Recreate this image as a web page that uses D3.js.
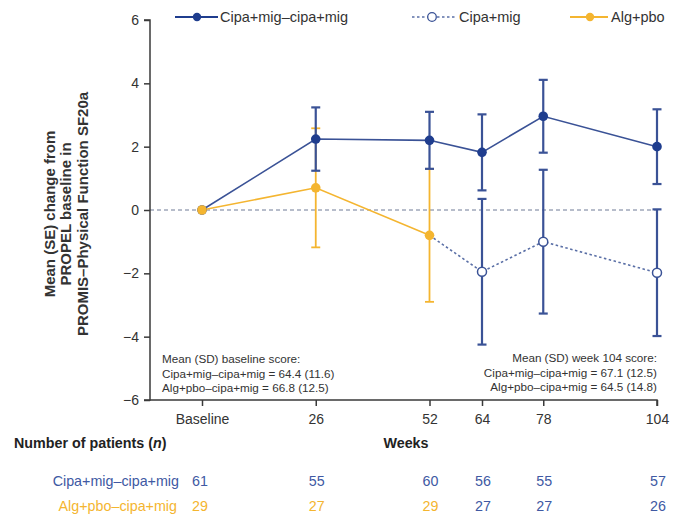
<!DOCTYPE html>
<html>
<head>
<meta charset="utf-8">
<script src="https://cdn.jsdelivr.net/npm/d3@7"></script>
<style>
  html, body { margin: 0; padding: 0; background: #fff; }
  svg { display: block; font-family: "Liberation Sans", Arial, sans-serif; }
</style>
</head>
<body>
<svg id="chart" width="673" height="520"></svg>
<script>
// Study visits (weeks) and their axis labels
const weeks = [0, 26, 52, 64, 78, 104];
const weekLabels = ["Baseline", "26", "52", "64", "78", "104"];

// Cipa+mig–cipa+mig: mean (SE) change from baseline
const cipaMean = [0, 2.24, 2.2, 1.82, 2.96, 2.0];
const cipaSE   = [0, 1.0, 0.9, 1.2, 1.15, 1.18];

// Alg+pbo during double-blind period
const algWeeks = [0, 26, 52];
const algMean  = [0, 0.7, -0.8];
const algSE    = [0, 1.88, 2.1];

// After switch to cipa+mig (open-label extension)
const switchWeeks = [52, 64, 78, 104];
const switchMean  = [-0.8, -1.95, -1.0, -1.98];
const switchSE    = [0, 2.3, 2.27, 2.0];

// Number of patients per visit
const nCipa = [61, 55, 60, 56, 55, 57];
const nAlg  = [29, 27, 29, 27, 27, 26];

const yTicks = [-6, -4, -2, 0, 2, 4, 6];

const BLUE = "#1f3d8e";
const BLUE_LINE = "#3a5296";
const BLUE_TEXT = "#4059a3";
const YELLOW = "#f4b530";
const AXIS = "#3a3a3a";

const svg = d3.select("#chart");

const x = d3.scaleLinear().domain([0, 104]).range([202, 657]);
const y = d3.scaleLinear().domain([-6, 6]).range([400, 20]);
const xLeft = 150;

// Zero reference line
svg.append("line")
  .attr("x1", xLeft).attr("x2", x(104))
  .attr("y1", y(0)).attr("y2", y(0))
  .attr("stroke", "#6f7a96").attr("stroke-width", 1)
  .attr("stroke-dasharray", "4,3");

// Y axis
const yAxis = d3.axisLeft(y).tickValues(yTicks).tickSize(6).tickPadding(5)
  .tickFormat(d => d < 0 ? "\u2212" + Math.abs(d) : d);
const gy = svg.append("g").attr("transform", `translate(${xLeft},0)`).call(yAxis);
gy.select(".domain").attr("stroke", AXIS).attr("stroke-width", 1.5).attr("d", `M-6,${y(6)}H0V${y(-6)}H-6`);
gy.selectAll(".tick line").attr("stroke", AXIS).attr("stroke-width", 1.5);
gy.selectAll(".tick text").attr("font-size", 14).attr("fill", "#333")
  .attr("font-family", "Liberation Sans, Arial, sans-serif");

// X axis
const xAxis = d3.axisBottom(x).tickValues(weeks).tickSize(6).tickPadding(8)
  .tickFormat((d, i) => weekLabels[i]);
const gx = svg.append("g").attr("transform", `translate(0,${y(-6)})`).call(xAxis);
gx.select(".domain").attr("stroke", AXIS).attr("stroke-width", 1.5).attr("d", `M${xLeft},0H${x(104)}V6`);
gx.selectAll(".tick line").attr("stroke", AXIS).attr("stroke-width", 1.5);
gx.selectAll(".tick text").attr("font-size", 14).attr("fill", "#333")
  .attr("font-family", "Liberation Sans, Arial, sans-serif");

// Y axis title
const yTitle = svg.append("text")
  .attr("transform", `translate(66,214) rotate(-90)`)
  .attr("text-anchor", "middle")
  .attr("font-size", 15).attr("font-weight", "bold").attr("fill", "#333");
["Mean (SE) change from", "PROPEL baseline in", "PROMIS\u2013Physical Function SF20a"]
  .forEach((t, i) => yTitle.append("tspan").attr("x", 0).attr("dy", i === 0 ? "-11.5" : "16.5").text(t));

// Error bars helper
function errorBars(xs, means, ses, color, width) {
  const g = svg.append("g").attr("stroke", color).attr("stroke-width", width).attr("fill", "none");
  xs.forEach((w, i) => {
    if (!ses[i]) return;
    const cx = x(w), top = y(means[i] + ses[i]), bot = y(means[i] - ses[i]);
    g.append("line").attr("x1", cx).attr("x2", cx).attr("y1", top).attr("y2", bot);
    g.append("line").attr("x1", cx - 4.5).attr("x2", cx + 4.5).attr("y1", top).attr("y2", top);
    g.append("line").attr("x1", cx - 4.5).attr("x2", cx + 4.5).attr("y1", bot).attr("y2", bot);
  });
}

const line = d3.line().x(d => x(d[0])).y(d => y(d[1]));

// Alg+pbo (drawn beneath)
errorBars(algWeeks, algMean, algSE, YELLOW, 1.8);
svg.append("path").datum(algWeeks.map((w, i) => [w, algMean[i]]))
  .attr("d", line).attr("fill", "none").attr("stroke", YELLOW).attr("stroke-width", 1.6);

// Switched to cipa+mig
errorBars(switchWeeks, switchMean, switchSE, BLUE_LINE, 2.2);
svg.append("path").datum(switchWeeks.map((w, i) => [w, switchMean[i]]))
  .attr("d", line).attr("fill", "none").attr("stroke", "#5a6fa6").attr("stroke-width", 1.6)
  .attr("stroke-dasharray", "2.5,2.5");

// Cipa+mig–cipa+mig
errorBars(weeks, cipaMean, cipaSE, BLUE_LINE, 2.2);
svg.append("path").datum(weeks.map((w, i) => [w, cipaMean[i]]))
  .attr("d", line).attr("fill", "none").attr("stroke", BLUE_LINE).attr("stroke-width", 1.6);

// Markers
svg.append("g").selectAll("circle").data(switchWeeks.slice(1).map((w, i) => [w, switchMean[i + 1]]))
  .join("circle").attr("cx", d => x(d[0])).attr("cy", d => y(d[1])).attr("r", 4.5)
  .attr("fill", "#fff").attr("stroke", BLUE_LINE).attr("stroke-width", 1.5);
svg.append("g").selectAll("circle").data(weeks.map((w, i) => [w, cipaMean[i]]))
  .join("circle").attr("cx", d => x(d[0])).attr("cy", d => y(d[1])).attr("r", 4.8)
  .attr("fill", BLUE);
svg.append("g").selectAll("circle").data(algWeeks.map((w, i) => [w, algMean[i]]))
  .join("circle").attr("cx", d => x(d[0])).attr("cy", d => y(d[1])).attr("r", 4.8)
  .attr("fill", YELLOW);

// Legend
const legend = svg.append("g").attr("font-size", 14.5).attr("fill", "#333");
function legendItem(x1, x2, cx, tx, label, color, dashed, open) {
  legend.append("line").attr("x1", x1).attr("x2", x2).attr("y1", 17).attr("y2", 17)
    .attr("stroke", color).attr("stroke-width", dashed ? 1.5 : 2)
    .attr("stroke-dasharray", dashed ? "2.5,2.5" : null);
  legend.append("circle").attr("cx", cx).attr("cy", 17).attr("r", open ? 4.3 : 4.2)
    .attr("fill", open ? "#fff" : color).attr("stroke", open ? BLUE_LINE : "none").attr("stroke-width", 1.3);
  legend.append("text").attr("x", tx).attr("y", 22).text(label);
}
legendItem(175, 218, 197, 220, "Cipa+mig\u2013cipa+mig", BLUE, false, false);
legendItem(412, 456, 432, 459, "Cipa+mig", "#5a6fa6", true, true);
legendItem(570, 608, 590, 611, "Alg+pbo", YELLOW, false, false);

// Baseline / week 104 score notes
const noteL = svg.append("text").attr("font-size", 11.7).attr("fill", "#333");
["Mean (SD) baseline score:", "Cipa+mig\u2013cipa+mig = 64.4 (11.6)", "Alg+pbo\u2013cipa+mig = 66.8 (12.5)"]
  .forEach((t, i) => noteL.append("tspan").attr("x", 162).attr("y", 363 + i * 14.7).text(t));
const noteR = svg.append("text").attr("font-size", 11.7).attr("fill", "#333").attr("text-anchor", "end");
["Mean (SD) week 104 score:", "Cipa+mig\u2013cipa+mig = 67.1 (12.5)", "Alg+pbo\u2013cipa+mig = 64.5 (14.8)"]
  .forEach((t, i) => noteR.append("tspan").attr("x", 657).attr("y", 362 + i * 14.7).text(t));

// Number of patients table
const tbl = svg.append("g").attr("font-size", 14.3);
const hdr = tbl.append("text").attr("x", 14).attr("y", 448).attr("font-weight", "bold").attr("fill", "#222");
hdr.append("tspan").text("Number of patients (");
hdr.append("tspan").attr("font-style", "italic").text("n");
hdr.append("tspan").text(")");
tbl.append("text").attr("x", 406).attr("y", 448).attr("text-anchor", "middle")
  .attr("font-weight", "bold").attr("fill", "#222").text("Weeks");

tbl.append("text").attr("x", 179).attr("y", 486).attr("text-anchor", "end").attr("fill", BLUE_TEXT)
  .text("Cipa+mig\u2013cipa+mig");
tbl.append("text").attr("x", 177).attr("y", 511).attr("text-anchor", "end").attr("fill", YELLOW)
  .text("Alg+pbo\u2013cipa+mig");

tbl.append("g").selectAll("text").data(nCipa).join("text")
  .attr("x", (d, i) => x(weeks[i]) + 1 - (i === 0 ? 3 : 0)).attr("y", 486).attr("text-anchor", "middle")
  .attr("fill", BLUE_TEXT).text(d => d);
tbl.append("g").selectAll("text").data(nAlg).join("text")
  .attr("x", (d, i) => x(weeks[i]) + 1 - (i === 0 ? 3 : 0)).attr("y", 511).attr("text-anchor", "middle")
  .attr("fill", (d, i) => weeks[i] <= 52 ? YELLOW : BLUE_TEXT).text(d => d);
</script>
</body>
</html>
